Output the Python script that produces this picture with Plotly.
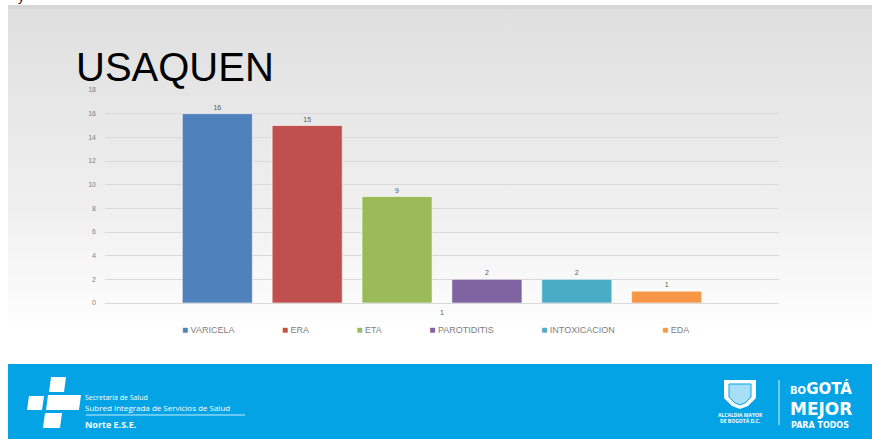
import base64
import plotly.graph_objects as go

# ---------------- data ----------------
categories = ["1"]
series_names = ["VARICELA", "ERA", "ETA", "PAROTIDITIS", "INTOXICACION", "EDA"]
series_values = [16, 15, 9, 2, 2, 1]
series_colors = ["#4f81bd", "#c0504d", "#9bbb59", "#8064a2", "#4bacc6", "#f79646"]
y_ticks = [0, 2, 4, 6, 8, 10, 12, 14, 16, 18]
title_text = "USAQUEN"

# ---------------- geometry helpers (pixel -> paper) ----------------
W, H = 872, 439
L, R, T, B = 105, 779, 90, 303


def px(x):
    return (x - L) / (R - L)


def py(y):
    return (B - y) / (B - T)


FONT = "Liberation Sans, Arial, sans-serif"
FOOT_FONT = "Open Sans, Noto Sans, sans-serif"
LOGO_FONT = "DejaVu Sans, sans-serif"
BLUE = "#03a3e6"

fig = go.Figure()

# bars
for name, val, col in zip(series_names, series_values, series_colors):
    fig.add_trace(go.Bar(
        x=categories, y=[val], name=name,
        marker=dict(color=col, line=dict(color="rgba(255,255,255,0.6)", width=1)),
        text=[str(val)], textposition="outside",
        textfont=dict(size=7, color="#595959", family=FONT),
        cliponaxis=False, showlegend=False,
    ))
# legend entries: coloured square kept right next to the label, like the original
NB = "\u00a0"
for name, col in zip(series_names, series_colors):
    fig.add_trace(go.Scatter(
        x=[None], y=[None], mode="markers",
        name=f"<span style='color:{col};font-size:10px'>■</span>{NB}{name}{NB}",
        marker=dict(symbol="square", size=1, color="rgba(0,0,0,0)"),
    ))

# slide background gradient
svg = ('<svg xmlns="http://www.w3.org/2000/svg" width="100" height="100" preserveAspectRatio="none">'
       '<defs><linearGradient id="g" x1="0" y1="0" x2="0" y2="1">'
       '<stop offset="0" stop-color="#dfdfdf"/><stop offset="0.55" stop-color="#efefef"/>'
       '<stop offset="0.92" stop-color="#ffffff"/><stop offset="1" stop-color="#ffffff"/>'
       '</linearGradient></defs><rect width="100" height="100" fill="url(#g)"/></svg>')
uri = "data:image/svg+xml;base64," + base64.b64encode(svg.encode()).decode()

images = [dict(source=uri, xref="paper", yref="paper", x=px(8), y=py(9),
               sizex=px(872) - px(8), sizey=py(9) - py(362), sizing="stretch",
               xanchor="left", yanchor="top", layer="below")]

shapes = []
# thin darker band at top of slide
shapes.append(dict(type="rect", xref="paper", yref="paper", x0=px(8), x1=px(872), y0=py(5), y1=py(9),
                   fillcolor="#d6d6d6", line=dict(width=0), layer="below"))
# footer band
shapes.append(dict(type="rect", xref="paper", yref="paper", x0=px(8), x1=px(872), y0=py(364), y1=py(439),
                   fillcolor=BLUE, line=dict(width=0), layer="below"))


def poly(points, fill="white", lw=0, lc="white"):
    d = "M " + " L ".join(f"{px(a):.5f},{py(b):.5f}" for a, b in points) + " Z"
    return dict(type="path", xref="paper", yref="paper", path=d, fillcolor=fill,
                line=dict(width=lw, color=lc), layer="above")


# left logo (cross pieces)
shapes.append(poly([(51, 377), (66, 377), (64, 392), (49, 392)]))
shapes.append(poly([(29, 396), (44, 396), (42, 410), (27, 410)]))
shapes.append(poly([(48, 395), (81, 395), (79, 410), (46, 410)]))
shapes.append(poly([(45, 413), (62, 413), (60, 428), (43, 428)]))
# divider line under logo text
shapes.append(dict(type="line", xref="paper", yref="paper", x0=px(86), x1=px(245), y0=py(415), y1=py(415),
                   line=dict(color="rgba(255,255,255,0.8)", width=1)))
# coat of arms (shield)
shapes.append(poly([(724, 380), (756, 380), (756, 398), (748, 406), (740, 409), (732, 406), (724, 398)]))
shapes.append(poly([(729, 384), (751, 384), (751, 397), (745, 403), (740, 405), (735, 403), (729, 397)],
                   fill="rgba(3,163,230,0.35)", lw=1, lc=BLUE))
# vertical divider
shapes.append(dict(type="line", xref="paper", yref="paper", x0=px(779), x1=px(779), y0=py(380), y1=py(425),
                   line=dict(color="rgba(255,255,255,0.85)", width=1)))

annotations = []


def ann(text, x, y, size, color="white", xanchor="left", family=FOOT_FONT, yanchor="middle"):
    annotations.append(dict(text=text, x=px(x), y=py(y), xref="paper", yref="paper", showarrow=False,
                            xanchor=xanchor, yanchor=yanchor, borderpad=0,
                            font=dict(size=size, color=color, family=family)))


ann("Secretaría de Salud", 84, 397, 7)
ann("Subred Integrada de Servicios de Salud", 84, 407, 8)
ann("<b>Norte E.S.E.</b>", 84, 424, 9)
ann("<b>ALCALDIA MAYOR</b>", 740, 415, 5, xanchor="center")
ann("<b>DE BOGOTÁ D.C.</b>", 740, 421, 5, xanchor="center")
ann("<b><span style='font-size:10px'>BO</span>GOTÁ</b>", 789, 388, 15, family=LOGO_FONT)
ann("<b>MEJOR</b>", 789, 409, 17, family=LOGO_FONT)
ann("<b>PARA TODOS</b>", 790, 425, 8, family=LOGO_FONT)
# clipped glyph from previous slide at very top
ann("y", 17, -3, 13, color="#222222", family=FONT, yanchor="middle")

fig.update_layout(
    width=W, height=H,
    margin=dict(l=L, r=W - R, t=T, b=H - B, pad=0),
    paper_bgcolor="white", plot_bgcolor="rgba(0,0,0,0)",
    barmode="group", bargap=0.2, bargroupgap=0.22,
    title=dict(text=title_text, x=76 / W, xanchor="left", xref="container",
               y=1 - 67 / H, yanchor="middle", yref="container",
               font=dict(size=40, color="black", family=FONT)),
    xaxis=dict(showgrid=False, zeroline=False, showline=False, ticks="",
               tickfont=dict(size=7, color="#595959", family=FONT), ticklabelstandoff=4),
    yaxis=dict(range=[0, 18], tickvals=y_ticks, showgrid=True, gridcolor="#d9d9d9", gridwidth=1,
               zeroline=True, zerolinecolor="#d9d9d9", zerolinewidth=1, showline=False, ticks="",
               tickfont=dict(size=7, color="#7f7f7f", family=FONT), ticklabelstandoff=8),
    legend=dict(orientation="h", x=px(142), xanchor="left", y=py(329), yanchor="middle",
                font=dict(size=9, color="#7f7f7f", family=FONT), bgcolor="rgba(0,0,0,0)",
                itemwidth=30),
    images=images, shapes=shapes, annotations=annotations,
)

fig.write_html("out.html", config={"displayModeBar": False},
               post_script="document.body.style.margin='0';document.body.style.overflow='hidden';")
